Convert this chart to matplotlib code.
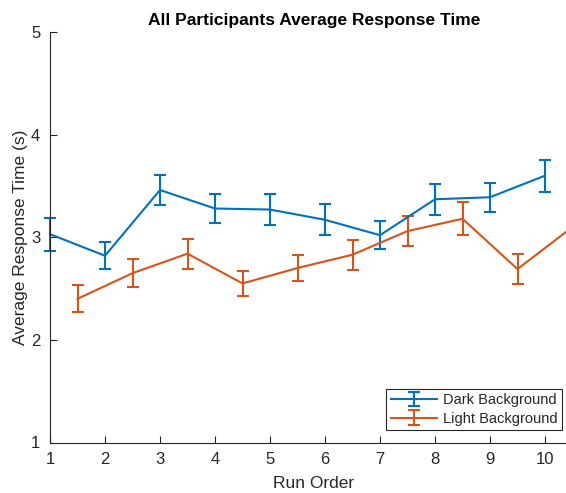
import matplotlib
matplotlib.use("Agg")
import matplotlib.pyplot as plt
import numpy as np

plt.rcParams['font.family'] = ['Liberation Sans', 'DejaVu Sans']

# run order positions
dark_x = [1, 2, 3, 4, 5, 6, 7, 8, 9, 10]
light_x = [1.5, 2.5, 3.5, 4.5, 5.5, 6.5, 7.5, 8.5, 9.5, 10.5]

# mean response times (s) and error bar half-widths
dark_mean = [3.03, 2.82, 3.46, 3.28, 3.27, 3.17, 3.02, 3.37, 3.39, 3.60]
dark_err = [0.16, 0.13, 0.145, 0.14, 0.15, 0.15, 0.135, 0.15, 0.14, 0.155]
light_mean = [2.40, 2.65, 2.84, 2.55, 2.70, 2.83, 3.06, 3.18, 2.69, 3.10]
light_err = [0.13, 0.135, 0.145, 0.125, 0.13, 0.145, 0.15, 0.16, 0.145, 0.15]

xticks = [1, 2, 3, 4, 5, 6, 7, 8, 9, 10]
yticks = [1, 2, 3, 4, 5]

blue = (0.0, 0.447, 0.741)
orange = (0.85, 0.325, 0.098)
axcol = (0.15, 0.15, 0.15)

W, H = 566, 493
fig = plt.figure(figsize=(W / 100, H / 100), dpi=100)
ax = fig.add_axes([50 / W, (H - 442.5) / H, (578 - 50) / W, (442.5 - 32) / H])

for x, m, e, c, lab in [(dark_x, dark_mean, dark_err, blue, 'Dark Background'),
                        (light_x, light_mean, light_err, orange, 'Light Background')]:
    cont = ax.errorbar(x, m, yerr=e, color=c, lw=1.5, capsize=4, capthick=1.5,
                       elinewidth=1.5, label=lab)
    for art in cont.get_children():
        art.set_clip_on(False)

ax.set_xlim(1, 10.6)
ax.set_ylim(1, 5)
ax.set_xticks(xticks)
ax.set_yticks(yticks)
ax.tick_params(direction='in', length=5, width=0.8, colors=axcol,
               labelsize=12, pad=7)
for side in ['top', 'right']:
    ax.spines[side].set_visible(False)
for side in ['left', 'bottom']:
    ax.spines[side].set_color(axcol)
    ax.spines[side].set_linewidth(0.8)

ax.set_title('All Participants Average Response Time', fontsize=12.5,
             fontweight='bold', color='black', pad=5)
ax.set_xlabel('Run Order', fontsize=12.5, color=axcol, labelpad=6)
ax.set_ylabel('Average Response Time (s)', fontsize=12.5, color=axcol, labelpad=2)

leg = ax.legend(loc='lower right', bbox_to_anchor=(562 / W, (H - 430) / H),
                bbox_transform=fig.transFigure, borderaxespad=0,
                fontsize=10.5, fancybox=False, framealpha=1,
                edgecolor=axcol, handlelength=3.2, borderpad=0.3,
                labelspacing=0.3, handletextpad=0.4)
leg.get_frame().set_linewidth(0.8)
for t in leg.get_texts():
    t.set_color(axcol)

fig.savefig('out.png', dpi=100)
